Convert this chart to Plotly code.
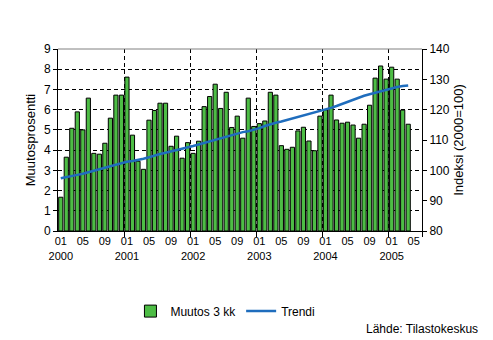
import plotly.graph_objects as go

# Monthly series, January 2000 - April 2005
months = list(range(64))
muutos_3kk = [
    1.67, 3.65, 5.08, 5.89, 5.00, 6.57, 3.84, 3.80, 4.34, 5.58, 6.72, 6.72,
    7.61, 4.74, 3.45, 3.05, 5.48, 5.96, 6.32, 6.32, 4.19, 4.69, 3.60, 4.37,
    3.84, 4.44, 6.15, 6.65, 7.26, 6.06, 6.86, 5.12, 5.68, 4.59, 6.57, 5.17,
    5.31, 5.44, 6.86, 6.72, 4.22, 4.04, 4.14, 4.95, 5.13, 4.45, 3.97, 5.68,
    5.99, 6.72, 5.49, 5.33, 5.38, 5.24, 4.59, 5.28, 6.22, 7.56, 8.16, 7.51,
    8.10, 7.51, 5.98, 5.28,
]
trendi = [
    97.4, 97.7, 98.1, 98.5, 98.9, 99.4, 99.9, 100.4, 100.9, 101.5, 102.0, 102.4,
    102.8, 103.1, 103.4, 103.8, 104.3, 104.9, 105.4, 105.8, 106.2, 106.7, 107.2, 107.6,
    108.0, 108.5, 109.0, 109.5, 110.0, 110.6, 111.1, 111.6, 112.2, 112.6, 112.9, 113.3,
    113.9, 114.6, 115.2, 115.7, 116.1, 116.6, 117.1, 117.6, 118.0, 118.4, 118.9, 119.4,
    119.9, 120.6, 121.2, 121.9, 122.6, 123.4, 124.1, 124.6, 125.1, 125.6, 126.1, 126.6,
    127.1, 127.5, 127.8, 128.0,
]
tick_pos = list(range(0, 65, 4))
tick_text = [
    "01<br>2000", "05", "09", "01<br>2001", "05", "09", "01<br>2002", "05", "09",
    "01<br>2003", "05", "09", "01<br>2004", "05", "09", "01<br>2005", "05",
]

FONT = "Liberation Sans, Arial, sans-serif"
DASH = "4px,3px"

fig = go.Figure()
fig.add_trace(go.Bar(
    x=months, y=muutos_3kk, name="Muutos 3 kk", width=0.76,
    marker=dict(color="#4dbd45", line=dict(color="black", width=1)),
    yaxis="y",
))
fig.add_trace(go.Scatter(
    x=months, y=trendi, name="Trendi", mode="lines",
    line=dict(color="#1f6dbd", width=2.5),
    yaxis="y2",
))

fig.update_layout(
    width=493, height=340,
    margin=dict(l=58, r=71, t=49, b=109),
    paper_bgcolor="white", plot_bgcolor="white",
    font=dict(family=FONT, size=12, color="black"),
    showlegend=True,
    legend=dict(
        orientation="h", x=0.46, xanchor="center",
        yref="container", y=0.085, yanchor="middle",
        font=dict(size=12), itemwidth=30, traceorder="normal",
        bgcolor="rgba(0,0,0,0)",
    ),
    xaxis=dict(
        range=[-0.5, 65.5], tickmode="array", tickvals=tick_pos, ticktext=tick_text,
        ticks="", showgrid=False, zeroline=False,
        showline=True, linecolor="black", linewidth=1,
        tickfont=dict(size=11),
        minor=dict(tickmode="array", tickvals=[11.5, 23.5, 35.5, 47.5, 59.5, 65.5],
                   showgrid=True, gridcolor="black", griddash=DASH, gridwidth=1,
                   ticks="outside", ticklen=5, tickcolor="black"),
    ),
    yaxis=dict(
        range=[0, 9], tickmode="array", tickvals=list(range(10)),
        ticks="outside", ticklen=4, tickcolor="black",
        showline=True, linecolor="black", linewidth=1,
        showgrid=False, zeroline=False,
        minor=dict(tickmode="array", tickvals=list(range(1, 9)),
                   showgrid=True, gridcolor="black", griddash=DASH, gridwidth=1),
        title=dict(text="Muutosprosentti", font=dict(size=13), standoff=5),
        tickfont=dict(size=12),
    ),
    yaxis2=dict(
        range=[80, 140], tickmode="array", tickvals=list(range(80, 141, 10)),
        overlaying="y", side="right",
        ticks="outside", ticklen=4, tickcolor="black",
        showline=True, linecolor="black", linewidth=1,
        showgrid=False, zeroline=False,
        title=dict(text="Indeksi (2000=100)", font=dict(size=13), standoff=5),
        tickfont=dict(size=12),
    ),
    shapes=[dict(type="line", xref="paper", yref="paper", x0=0, x1=1, y0=1, y1=1,
                 line=dict(color="#808080", width=1))],
    annotations=[dict(text="Lähde: Tilastokeskus", xref="paper", yref="paper",
                      x=1.16, y=-0.54, xanchor="right", yanchor="middle",
                      showarrow=False, font=dict(size=12))],
)

fig.write_html("out.html")
